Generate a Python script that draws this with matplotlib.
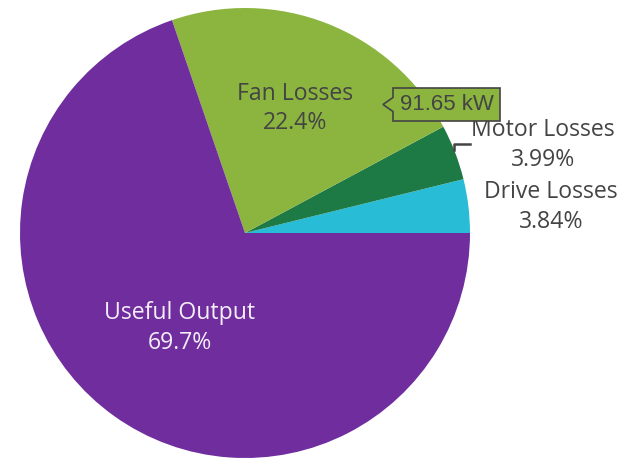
import matplotlib
matplotlib.use("Agg")
import matplotlib.pyplot as plt
from matplotlib.patches import Polygon

categories = ["Drive Losses", "Motor Losses", "Fan Losses", "Useful Output"]
values_kw = [15.71, 16.30, 91.65, 285.0]
colors = ["#29bcd6", "#1d7a45", "#8bb53e", "#6f2d9e"]
hover_label = "91.65 kW"

W, H = 626, 459
fig = plt.figure(figsize=(W / 100, H / 100), dpi=100)
ax = fig.add_axes([0, 0, 1, 1])

cx, cy, r = 245, H - 233, 225
ax.pie(values_kw, colors=colors, startangle=0, counterclock=True,
       center=(cx, cy), radius=r, wedgeprops=dict(linewidth=0))
ax.set_xlim(0, W)
ax.set_ylim(0, H)
ax.set_aspect("equal")
ax.axis("off")

total = sum(values_kw)
pcts = [f"{v / total * 100:.3g}%" for v in values_kw]

fs = 16.6
font = "Open Sans"
def lab(x, y, t, c):
    ax.text(x, H - y, t, ha="center", va="center", fontsize=fs, color=c,
            family=font, linespacing=1.3)

lab(551, 207, f"{categories[0]}\n{pcts[0]}", "#444444")
lab(543, 145, f"{categories[1]}\n{pcts[1]}", "#444444")
lab(295, 108.5, f"{categories[2]}\n{pcts[2]}", "#444444")
lab(180, 328, f"{categories[3]}\n{pcts[3]}", "#f4eef8")

# leader line for Motor Losses
ax.plot([454, 454, 470], [H - 150, H - 144, H - 144], color="#444444", lw=1.8)

# hover tooltip
bx0, bx1, by0, by1 = 393, 500, 88, 121
ym = (by0 + by1) / 2
pts = [(383, ym), (bx0, ym - 7), (bx0, by0), (bx1, by0), (bx1, by1),
       (bx0, by1), (bx0, ym + 7)]
ax.add_patch(Polygon([(x, H - y) for x, y in pts], closed=True,
                     facecolor="#8bb53e", edgecolor="#444444", lw=1.2, zorder=5))
ax.text((bx0 + bx1) / 2 + 0.5, H - ym, hover_label, ha="center", va="center",
        fontsize=16, color="#444444", family="Liberation Sans", zorder=6)

fig.savefig("out.png", dpi=100)
